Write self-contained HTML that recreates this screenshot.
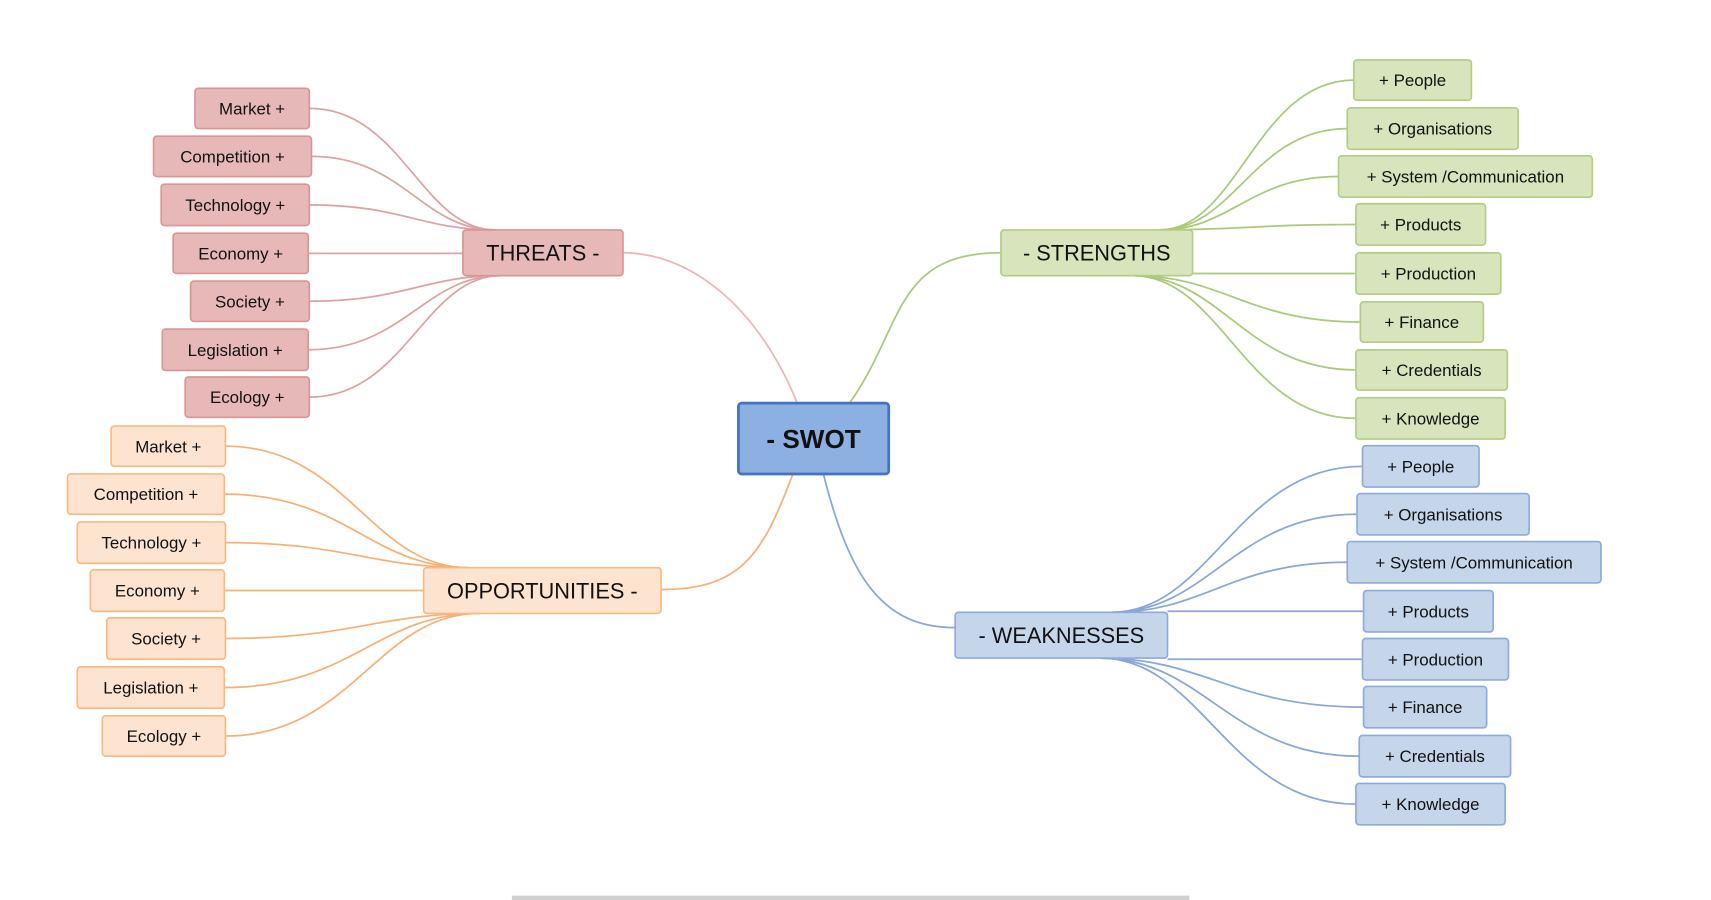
<!DOCTYPE html>
<html><head><meta charset="utf-8"><style>
html,body{margin:0;padding:0;background:#fff;overflow:hidden}
svg{display:block}
text{font-family:"Liberation Sans",sans-serif;fill:#111}
</style></head><body>
<svg id="s" width="1711" height="900" viewBox="0 0 1571 826" preserveAspectRatio="none" xmlns="http://www.w3.org/2000/svg">
<g id="lines" fill="none" stroke-width="1.6"></g>
<g id="nodes"></g>
<rect x="470" y="822" width="622" height="4" fill="#d0d0d0"/>
</svg>
<script>
var NS="http://www.w3.org/2000/svg";
var L=document.getElementById('lines'),N=document.getElementById('nodes');
function el(t,a,p,txt){var e=document.createElementNS(NS,t);for(var k in a)e.setAttribute(k,a[k]);if(txt)e.textContent=txt;p.appendChild(e);return e;}
function box(x1,y1,x2,y2,fill,stroke,txt,fs,sw,bold){
 el('rect',{x:x1,y:y1,width:x2-x1,height:y2-y1,rx:3,fill:fill,stroke:stroke,'stroke-width':sw||1.5},N);
 var a={x:(x1+x2)/2,y:(y1+y2)/2+fs*0.36,'text-anchor':'middle','font-size':fs};
 if(bold)a['font-weight']='bold';
 el('text',a,N,txt);
}
function path(d,c){el('path',{d:d,stroke:c},L);}
var groups=[
 {n:[425,211,572,253],txt:'THREATS -',fill:'#e6b9b8',st:'#d99594',lc:'#dba3a2',side:-1,
  leaves:[[179,81,284,118,'Market +'],[141,125,286,162,'Competition +'],[148,169,284,207,'Technology +'],[159,214,283,251,'Economy +'],[175,258,284,295,'Society +'],[149,302,283,340,'Legislation +'],[170,346,284,383,'Ecology +']],
  top:455,bot:460},
 {n:[389,521,607,563],txt:'OPPORTUNITIES -',fill:'#fce4d0',st:'#f9b880',lc:'#f6b074',side:-1,
  leaves:[[102,391,207,428,'Market +'],[62,435,206,472,'Competition +'],[71,479,207,517,'Technology +'],[83,523,206,561,'Economy +'],[98,567,207,605,'Society +'],[71,612,206,650,'Legislation +'],[94,657,207,694,'Ecology +']],
  top:430,bot:440},
 {n:[919,211,1095,253],txt:'- STRENGTHS',fill:'#d7e4bc',st:'#b3cc82',lc:'#aac97a',side:1,
  leaves:[[1243,55,1351,92,'+ People'],[1237,99,1394,137,'+ Organisations'],[1229,143,1462,181,'+ System /Communication'],[1245,187,1364,225,'+ Products'],[1245,232,1378,270,'+ Production'],[1249,277,1362,314,'+ Finance'],[1245,321,1384,358,'+ Credentials'],[1245,365,1382,403,'+ Knowledge']],
  top:1065,bot:1040},
 {n:[877,562,1072,604],txt:'- WEAKNESSES',fill:'#c5d5ea',st:'#8eaadb',lc:'#88a6d6',side:1,
  leaves:[[1251,409,1358,447,'+ People'],[1246,453,1404,491,'+ Organisations'],[1237,497,1470,535,'+ System /Communication'],[1252,542,1371,580,'+ Products'],[1251,586,1385,624,'+ Production'],[1252,630,1365,668,'+ Finance'],[1248,675,1387,713,'+ Credentials'],[1245,719,1382,757,'+ Knowledge']],
  top:1020,bot:1010}
];
groups.forEach(function(g){
 var n=g.n, cy=(n[1]+n[3])/2;
 g.leaves.forEach(function(l){
  var ly=(l[1]+l[3])/2, lx=g.side<0?l[2]:l[0], sx, sy;
  if(ly<n[1]-4){sx=g.top;sy=n[1];}
  else if(ly>n[3]+4){sx=g.bot;sy=n[3];}
  else{sx=g.side<0?n[0]:n[2];sy=ly;}
  var dx=Math.abs(sx-lx);
  path('M'+lx+','+ly+' C'+(lx-g.side*dx*0.5)+','+ly+' '+(sx+g.side*dx*0.4)+','+sy+' '+sx+','+sy,g.lc);
  box(l[0],l[1],l[2],l[3],g.fill,g.st,l[4],15.5,1.5);
 });
 box(n[0],n[1],n[2],n[3],g.fill,g.st,g.txt,20,1.5);
});
path('M732,370 C700,290 640,232 572,232','#e8b7b6');
path('M780,370 C830,300 820,232 919,232','#aac97a');
path('M728,435 C700,510 680,541 607,541','#f6b074');
path('M756,435 C780,530 810,576 877,576','#88a6d6');
box(678,370,816,435,'#8db0e2','#4472c4','- SWOT',24,2.5,true);
</script>
</body></html>
